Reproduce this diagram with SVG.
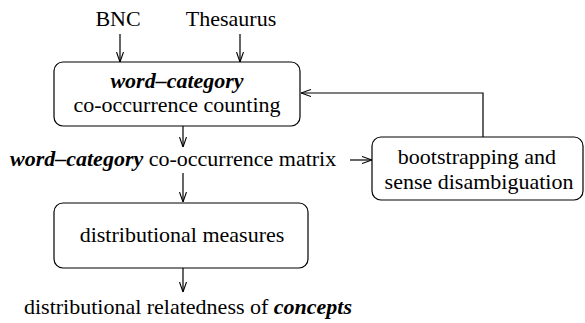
<svg xmlns="http://www.w3.org/2000/svg" width="585" height="323" viewBox="0 0 585 323" font-family="'Liberation Serif', Tinos, 'Times New Roman', 'DejaVu Serif', serif">
<style>
text{font-family:'Liberation Serif', Tinos, 'Times New Roman', 'DejaVu Serif', serif;font-size:22px;fill:#000}
.bi{font-weight:bold;font-style:italic}
.box{fill:#fff;stroke:#000;stroke-width:1.2}
.c{fill:none;stroke:#000;stroke-width:1.2}
</style>
<defs>
<marker id="ah" viewBox="0 0 10 8" refX="10" refY="4" markerWidth="10" markerHeight="8" markerUnits="userSpaceOnUse" orient="auto">
<path d="M0,0.5 L10,4 L0,7.5" fill="none" stroke="#000" stroke-width="1.1"/>
</marker>
</defs>
<g id="connectors">
<line class="c" x1="120" y1="34" x2="120" y2="62" marker-end="url(#ah)"/>
<line class="c" x1="240" y1="34" x2="240" y2="62" marker-end="url(#ah)"/>
<line class="c" x1="183" y1="126" x2="183" y2="147" marker-end="url(#ah)"/>
<line class="c" x1="350" y1="160" x2="372" y2="160" marker-end="url(#ah)"/>
<polyline class="c" points="483,137 483,93 301,93" marker-end="url(#ah)"/>
<line class="c" x1="183" y1="173" x2="183" y2="202" marker-end="url(#ah)"/>
<line class="c" x1="183" y1="268" x2="183" y2="292" marker-end="url(#ah)"/>
</g>
<g id="bnc"><text x="118" y="26" text-anchor="middle">BNC</text></g>
<g id="thesaurus"><text x="231" y="26" text-anchor="middle">Thesaurus</text></g>
<g id="counting">
<rect class="box" x="54" y="62" width="246" height="64" rx="9"/>
<text x="177" y="88" text-anchor="middle" class="bi">word–category</text>
<text x="177" y="112" text-anchor="middle">co-occurrence counting</text>
</g>
<g id="matrix">
<text x="10" y="166"><tspan class="bi">word–category</tspan> co-occurrence matrix</text>
</g>
<g id="bootstrap">
<rect class="box" x="372" y="137" width="211" height="63" rx="9"/>
<text x="477" y="164" text-anchor="middle">bootstrapping and</text>
<text x="479" y="189" text-anchor="middle">sense disambiguation</text>
</g>
<g id="measures">
<rect class="box" x="54" y="203" width="254" height="65" rx="9"/>
<text x="182" y="242" text-anchor="middle">distributional measures</text>
</g>
<g id="relatedness">
<text x="188" y="314" text-anchor="middle">distributional relatedness of <tspan class="bi">concepts</tspan></text>
</g>
</svg>
